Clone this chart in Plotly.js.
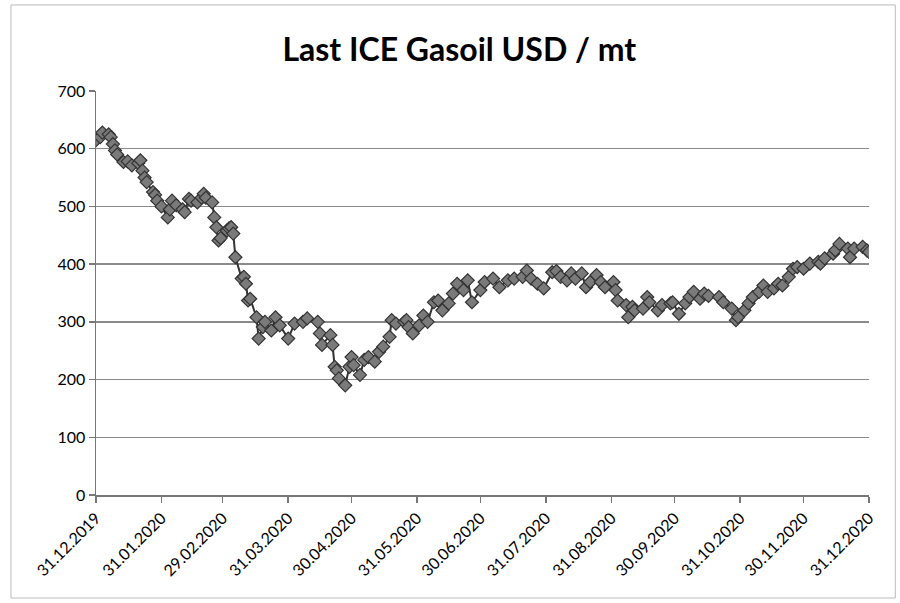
<!DOCTYPE html>
<html>
<head>
<meta charset="utf-8">
<script src="https://cdn.plot.ly/plotly-3.0.1.min.js"></script>
<style>html,body{margin:0;padding:0;background:#fff}#chart{width:900px;height:603px}</style>
</head>
<body>
<div id="chart"></div>
<script>
const dates = [
"2019-12-31","2020-01-02","2020-01-03","2020-01-06","2020-01-07","2020-01-08","2020-01-09","2020-01-10","2020-01-13","2020-01-15",
"2020-01-17","2020-01-20","2020-01-21","2020-01-22","2020-01-23","2020-01-24","2020-01-27","2020-01-28","2020-01-29","2020-01-31",
"2020-02-03","2020-02-04","2020-02-05","2020-02-07","2020-02-10","2020-02-11","2020-02-13","2020-02-14","2020-02-17","2020-02-19",
"2020-02-20","2020-02-21","2020-02-24","2020-02-25","2020-02-26","2020-02-27","2020-02-28","2020-03-02","2020-03-03","2020-03-04",
"2020-03-05","2020-03-06","2020-03-09","2020-03-10","2020-03-11","2020-03-12","2020-03-13","2020-03-16","2020-03-17","2020-03-19",
"2020-03-20","2020-03-23","2020-03-25","2020-03-27","2020-03-31","2020-04-03","2020-04-07","2020-04-09","2020-04-14","2020-04-15",
"2020-04-16","2020-04-20","2020-04-21","2020-04-22","2020-04-23","2020-04-24","2020-04-27","2020-04-29","2020-04-30","2020-05-01",
"2020-05-04","2020-05-06","2020-05-08","2020-05-11","2020-05-13","2020-05-15","2020-05-18","2020-05-19","2020-05-21","2020-05-25",
"2020-05-26","2020-05-27","2020-05-29","2020-06-01","2020-06-03","2020-06-05","2020-06-08","2020-06-10","2020-06-12","2020-06-15",
"2020-06-17","2020-06-19","2020-06-22","2020-06-24","2020-06-26","2020-06-30","2020-07-02","2020-07-06","2020-07-09","2020-07-13",
"2020-07-16","2020-07-20","2020-07-22","2020-07-24","2020-07-27","2020-07-30","2020-08-03","2020-08-05","2020-08-07","2020-08-10",
"2020-08-12","2020-08-14","2020-08-17","2020-08-19","2020-08-21","2020-08-24","2020-08-26","2020-08-28","2020-09-01","2020-09-02",
"2020-09-03","2020-09-07","2020-09-08","2020-09-10","2020-09-11","2020-09-15","2020-09-17","2020-09-18","2020-09-22","2020-09-24",
"2020-09-28","2020-09-29","2020-10-02","2020-10-05","2020-10-07","2020-10-09","2020-10-12","2020-10-14","2020-10-16","2020-10-21",
"2020-10-23","2020-10-27","2020-10-29","2020-10-30","2020-11-02","2020-11-04","2020-11-06","2020-11-09","2020-11-11","2020-11-13",
"2020-11-16","2020-11-18","2020-11-20","2020-11-23","2020-11-25","2020-11-27","2020-11-30","2020-12-03","2020-12-07","2020-12-08",
"2020-12-10","2020-12-14","2020-12-15","2020-12-17","2020-12-21","2020-12-22","2020-12-24","2020-12-28","2020-12-30","2020-12-31"
];
const prices = [
615,620,628,625,620,608,597,590,577,578,
571,575,580,562,550,542,525,520,510,500,
481,495,510,502,495,490,513,510,507,515,
522,515,507,481,464,441,445,458,462,464,
453,412,375,378,366,337,340,308,271,291,
300,285,308,294,271,297,300,306,300,280,
260,277,260,222,216,202,190,222,239,225,
208,234,239,231,248,257,274,303,297,300,
303,291,280,294,311,300,334,337,320,332,
349,366,355,372,334,355,369,375,360,372,
375,378,389,375,366,358,386,388,378,372,
384,375,384,360,369,381,369,360,369,355,
337,329,308,326,320,323,343,334,320,329,
332,334,314,332,343,352,340,349,345,343,
334,323,303,308,320,332,343,352,363,352,
358,366,363,378,392,395,392,401,404,401,
410,418,424,435,427,412,427,430,424,421
];
const tickDates = ["2019-12-31","2020-01-31","2020-02-29","2020-03-31","2020-04-30","2020-05-31","2020-06-30","2020-07-31","2020-08-31","2020-09-30","2020-10-31","2020-11-30","2020-12-31"];
const tickLabels = ["31.12.2019","31.01.2020","29.02.2020","31.03.2020","30.04.2020","31.05.2020","30.06.2020","31.07.2020","31.08.2020","30.09.2020","31.10.2020","30.11.2020","31.12.2020"];
const yTicks = [0,100,200,300,400,500,600,700];
const chartTitle = "Last ICE Gasoil USD / mt";

const trace = {
  x: dates, y: prices, type: "scatter", mode: "lines+markers",
  line: {color: "#333333", width: 2},
  marker: {symbol: "diamond", size: 10, color: "#7a7a7a", line: {color: "#333333", width: 1.2}},
  hoverinfo: "x+y"
};

const layout = {
  width: 900, height: 603,
  margin: {l: 96, r: 31, t: 91, b: 108},
  paper_bgcolor: "#ffffff", plot_bgcolor: "#ffffff",
  showlegend: false,
  font: {family: "Lato, 'Open Sans', sans-serif", color: "#000"},
  title: {text: "<b>" + chartTitle + "</b>", font: {size: 32, family: "Lato, 'Open Sans', sans-serif", color: "#000"}, xref: "paper", x: 0.47, xanchor: "center", y: 0.918, yanchor: "middle"},
  xaxis: {
    type: "date", range: ["2019-12-31", "2020-12-31"],
    tickmode: "array", tickvals: tickDates, ticktext: tickLabels,
    tickangle: -45, tickfont: {size: 16, color: "#000"},
    showgrid: false, zeroline: false,
    showline: true, linecolor: "#777", linewidth: 1.5,
    ticks: "outside", ticklen: 6, tickcolor: "#777", tickwidth: 1.5
  },
  yaxis: {
    range: [0, 700], tickmode: "array", tickvals: yTicks,
    tickfont: {size: 16, color: "#000"},
    showgrid: true, gridcolor: "#8a8a8a", gridwidth: 1.5,
    zeroline: false, showline: true, linecolor: "#777", linewidth: 1.5,
    ticks: "outside", ticklen: 6, tickcolor: "#777", tickwidth: 1.5
  },
  shapes: [
    {type: "rect", xref: "paper", yref: "paper", x0: -0.110, x1: 1.034, y0: -0.255, y1: 1.213, line: {color: "#bbbbbb", width: 1}}
  ]
};

Plotly.newPlot("chart", [trace], layout, {displayModeBar: false, staticPlot: true});
</script>
</body>
</html>
